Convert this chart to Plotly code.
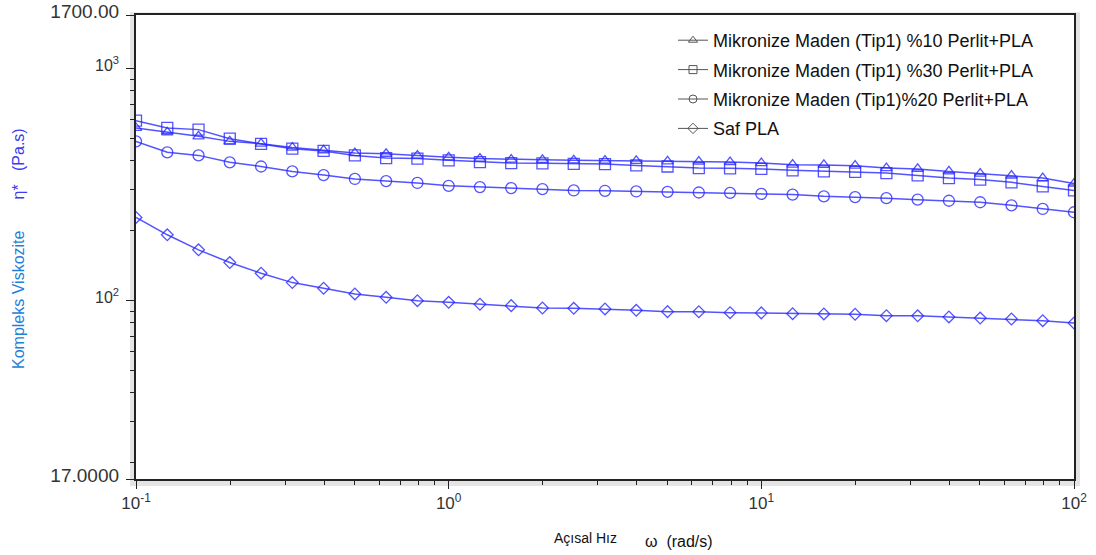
import plotly.graph_objects as go

# angular frequency (rad/s)
omega = [0.1, 0.1259, 0.1585, 0.1995, 0.2512, 0.3162, 0.3981, 0.5012, 0.631, 0.7943,
         1.0, 1.259, 1.585, 1.995, 2.512, 3.162, 3.981, 5.012, 6.31, 7.943,
         10.0, 12.59, 15.85, 19.95, 25.12, 31.62, 39.81, 50.12, 63.1, 79.43, 100.0]

# complex viscosity (Pa.s)
tip1_10 = [554, 531, 510, 485, 474, 456, 444, 432, 429, 421,
           414, 409, 405, 404, 402, 401, 400, 398, 397, 395,
           391, 385, 384, 381, 372, 369, 360, 352, 345, 337, 319]
tip1_30 = [596, 554, 545, 498, 473, 451, 441, 422, 411, 409,
           402, 395, 391, 390, 388, 387, 382, 378, 372, 371,
           369, 364, 360, 358, 354, 346, 337, 332, 323, 310, 298]
tip1_20 = [485, 435, 422, 394, 378, 360, 347, 334, 327, 321,
           312, 308, 305, 302, 298, 297, 295, 294, 292, 291,
           288, 286, 281, 279, 276, 272, 269, 265, 257, 248, 240]
saf_pla = [228, 191.9, 165.3, 145.7, 131.1, 119.4, 112.9, 106.7, 103.2, 99.8,
           98.2, 96.3, 95.0, 92.8, 92.5, 91.9, 90.7, 89.5, 89.4, 88.6,
           88.4, 87.7, 87.5, 87.2, 86.0, 85.9, 84.9, 84.0, 83.2, 81.8, 80.0]

series_names = ["Mikronize Maden (Tip1) %10 Perlit+PLA",
                "Mikronize Maden (Tip1) %30 Perlit+PLA",
                "Mikronize Maden (Tip1)%20 Perlit+PLA",
                "Saf PLA"]
series_values = [tip1_10, tip1_30, tip1_20, saf_pla]
symbols = ["triangle-up-open", "square-open", "circle-open", "diamond-open"]
msizes = [10, 11, 11, 9]

y_tickvals = [17, 100, 1000, 1700]
y_ticktext = ['<span style="font-size:19px">17.0000</span>', "10<sup>2</sup>",
              "10<sup>3</sup>", '<span style="font-size:19px">1700.00</span>']
y_minor = [20, 30, 40, 50, 60, 70, 80, 90, 200, 300, 400, 500, 600, 700, 800, 900]
x_tickvals = [0.1, 1, 10, 100]
x_ticktext = ["10<sup>-1</sup>", "10<sup>0</sup>", "10<sup>1</sup>", "10<sup>2</sup>"]
x_minor = [0.2, 0.3, 0.4, 0.5, 0.6, 0.7, 0.8, 0.9, 2, 3, 4, 5, 6, 7, 8, 9,
           20, 30, 40, 50, 60, 70, 80, 90]

LINE = "rgba(40,40,255,0.8)"
FONT = "Arial, 'Liberation Sans', sans-serif"

fig = go.Figure()
for name, vals, sym, ms in zip(series_names, series_values, symbols, msizes):
    fig.add_trace(go.Scatter(
        x=omega, y=vals, mode="lines+markers", name=name, showlegend=False,
        line=dict(color=LINE, width=1.5),
        marker=dict(symbol=sym, size=ms, color=LINE, line=dict(color=LINE, width=1.3)),
    ))
# legend entries (dark symbols as in the original legend)
for i, (name, sym) in enumerate(zip(series_names, symbols)):
    fig.add_trace(go.Scatter(
        x=[None], y=[None], mode="lines+markers", name=name, legendgroup=f"g{i}",
        line=dict(color="#555555", width=1),
        marker=dict(symbol=sym, size=8, color="#555555", line=dict(color="#555555", width=1)),
    ))

W, H = 1096, 555
L, R, T, B = 136, 22, 15, 76
pw, ph = W - L - R, H - T - B


def px(x):
    return (x - L) / pw


def py(y):
    return (H - B - y) / ph


gray = "#e4e4e4"
shapes = []
for (x0, x1, y0, y1) in [(130, 136, 12.5, 486), (1074, 1080, 12.5, 486),
                         (130, 1080, 479, 486), (130, 1080, 12.5, 15)]:
    shapes.append(dict(type="rect", xref="paper", yref="paper",
                       x0=px(x0), x1=px(x1), y0=py(y1), y1=py(y0),
                       fillcolor=gray, line=dict(width=0), layer="below"))

axis_common = dict(showline=True, linecolor="#222222", linewidth=1.5, mirror=True,
                   showgrid=False, zeroline=False, ticks="outside", ticklen=8,
                   tickcolor="#222222", tickwidth=1.2, automargin=False)

fig.update_layout(
    width=W, height=H,
    margin=dict(l=L, r=R, t=T, b=B, autoexpand=False),
    paper_bgcolor="white", plot_bgcolor="white",
    font=dict(family=FONT, color="#222222"),
    shapes=shapes,
    xaxis=dict(type="log", range=[-1, 2], tickmode="array", tickvals=x_tickvals,
               ticktext=x_ticktext,
               tickfont=dict(family=FONT, size=17, color="#333333"),
               minor=dict(tickmode="array", tickvals=x_minor, ticks="outside", ticklen=4,
                          tickcolor="#222222", tickwidth=1.2),
               **axis_common),
    yaxis=dict(type="log", range=[1.2304489, 3.2304489], tickmode="array",
               tickvals=y_tickvals, ticktext=y_ticktext,
               tickfont=dict(family=FONT, size=16, color="#333333"),
               ticklabelstandoff=4, ticklabelshift=-3, ticklabeloverflow="allow",
               minor=dict(tickmode="array", tickvals=y_minor, ticks="outside", ticklen=4,
                          tickcolor="#222222", tickwidth=1.2),
               **axis_common),
    legend=dict(x=px(673), y=py(22), xanchor="left", yanchor="top",
                bgcolor="rgba(0,0,0,0)", font=dict(family=FONT, size=18, color="#111111"),
                tracegroupgap=3),
    annotations=[
        dict(xref="paper", yref="paper", x=px(18), y=py(249), textangle=-90,
             showarrow=False, xanchor="center", yanchor="middle",
             font=dict(family=FONT, size=16),
             text='<span style="color:#1f80da">Kompleks Viskozite</span>'
                  '\u00a0\u00a0\u00a0\u00a0\u00a0\u00a0\u00a0'
                  '<span style="color:#3b3bf2">η*\u00a0\u00a0\u00a0(Pa.s)</span>'),
        dict(xref="paper", yref="paper", x=px(585), y=py(538), showarrow=False,
             xanchor="center", yanchor="middle",
             font=dict(family=FONT, size=14, color="#111111"), text="Açısal Hız"),
        dict(xref="paper", yref="paper", x=px(643), y=py(541), showarrow=False,
             xanchor="left", yanchor="middle",
             font=dict(family=FONT, size=16, color="#111111"), text="ω\u00a0\u00a0(rad/s)"),
    ],
)

fig.write_html("out.html")
